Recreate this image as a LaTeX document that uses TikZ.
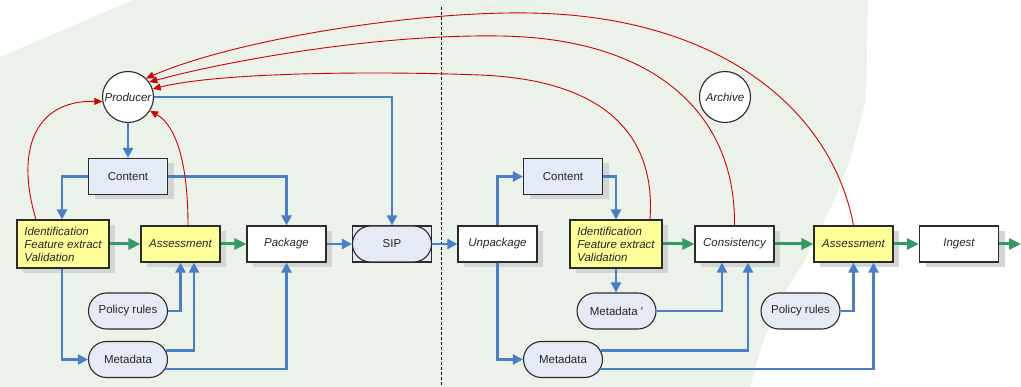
\documentclass[tikz,border=0pt]{standalone}
\usepackage{fontspec}
\setmainfont{Liberation Sans}
\usetikzlibrary{arrows.meta,shadows}

\definecolor{bggreen}{HTML}{EBF2EA}
\definecolor{lblue}{HTML}{E4EBF6}
\definecolor{yel}{HTML}{FFFF99}
\definecolor{wireblue}{HTML}{4A7EC8}
\definecolor{flowgreen}{HTML}{339966}
\definecolor{backred}{HTML}{D40000}
\definecolor{edgegray}{HTML}{2B2B2B}
\definecolor{txt}{HTML}{262626}
\definecolor{shadowc}{HTML}{D2D6D2}

\begin{document}
\begin{tikzpicture}[x=1pt,y=-1pt,
  every node/.style={font=\fontsize{11.5}{13}\selectfont, text=txt},
  boxbase/.style={draw=edgegray, line width=1.1pt, minimum width=79pt,
    minimum height=36pt, inner sep=2pt},
  shad/.style={drop shadow={shadow xshift=6pt, shadow yshift=-5pt,
    fill=shadowc, opacity=1}},
  wbox/.style={boxbase, fill=white, shad, font=\fontsize{11.5}{13}\selectfont\itshape},
  ybox/.style={boxbase, fill=yel, shad, font=\fontsize{11.5}{13}\selectfont\itshape},
  cbox/.style={boxbase, fill=lblue, shad},
  multibox/.style={ybox, minimum width=92pt, minimum height=48pt, align=left},
  pill/.style={draw=edgegray, line width=1.1pt, fill=lblue, rounded corners=18pt,
    minimum width=79pt, minimum height=36pt, inner sep=2pt},
  circ/.style={circle, draw=edgegray, line width=1.1pt, fill=white,
    minimum size=51pt, inner sep=0pt, font=\fontsize{11.5}{13}\selectfont\itshape},
  wire/.style={draw=wireblue, line width=2.3pt,
    -{Triangle[length=10pt,width=10pt]}},
  flow/.style={draw=flowgreen, line width=3pt,
    -{Triangle[length=12pt,width=11pt]}},
  loop/.style={draw=backred, line width=0.9pt,
    -{Triangle[length=8pt,width=7pt]}},
]
\useasboundingbox (0,0) rectangle (1021,387);

% shaded working area
\fill[bggreen] (0,57) -- (133,0) -- (868,0) -- (866,100) -- (850,160)
  -- (832,205) -- (805,260) -- (780,300) -- (762,345) -- (750,387)
  -- (0,387) -- cycle;

% divider between producer side and archive side
\coordinate (divtop) at (441.7,7);
\coordinate (divbot) at (441.7,387);
\draw[black, line width=0.8pt, dash pattern=on 3pt off 2pt] (divtop) -- (divbot);

% producer side
\node[circ] (prod) at (128,97) {Producer};
\node[cbox] (cont) at (128,176.5) {Content};
\node[multibox] (id) at (63,244) {Identification\\Feature extract\\Validation};
\node[ybox] (ass) at (180.5,244) {Assessment};
\node[wbox] (pack) at (286.5,244) {Package};
\node[boxbase, fill=lblue] (sip) at (392,244) {};
\node[pill] (sippill) at (392,244) {SIP};
\node[pill] (pol) at (128,311) {Policy rules};
\node[pill] (meta) at (128,359.5) {Metadata};

% archive side
\node[circ] (arch) at (725,97) {Archive};
\node[wbox] (unp) at (497.5,244) {Unpackage};
\node[cbox] (cont2) at (563,176.5) {Content};
\node[multibox] (id2) at (616,244) {Identification\\Feature extract\\Validation};
\node[wbox] (cons) at (734.5,244) {Consistency};
\node[ybox] (ass2) at (853.5,244) {Assessment};
\node[wbox] (ing) at (959,244) {Ingest};
\node[pill] (metap) at (616.5,311) {Metadata ′};
\node[pill] (pol2) at (800.5,311) {Policy rules};
\node[pill] (meta2) at (563,359.5) {Metadata};
\coordinate (out) at (1021,244);

% producer side connectors
\draw[wire] (prod) -- (cont);
\draw[wire] (cont.west) -| ([xshift=-1pt]id.north);
\draw[wire] (cont.east) -| (pack.north);
\draw[wire] (prod.east) -| (sip.north);
\draw[flow] (id) -- (ass);
\draw[flow] (ass) -- (pack);
\draw[wire] (pack) -- (sip);
\draw[wire] (sip) -- (unp);
\draw[wire] ([xshift=-1pt]id.south) |- (meta.west);
\draw[wire] (pol.east) -| (ass.south);
\draw[wire] ([xshift=-2.4pt,yshift=9pt]meta.east) -| ([xshift=13.5pt]ass.south);
\draw[wire] ([xshift=-2.7pt,yshift=-9.5pt]meta.east) -| (pack.south);

% archive side connectors
\draw[wire] (unp.north) |- (cont2.west);
\draw[wire] (unp.south) |- (meta2.west);
\draw[wire] (cont2.east) -| (id2.north);
\draw[flow] (id2) -- (cons);
\draw[flow] (cons) -- (ass2);
\draw[flow] (ass2) -- (ing);
\draw[flow] (ing) -- (out);
\draw[wire] (id2.south) -- (id2.south |- metap.north);
\draw[wire] (metap.east) -| ([xshift=-12.5pt]cons.south);
\draw[wire] ([xshift=-2.4pt,yshift=9pt]meta2.east) -| ([xshift=13.5pt]cons.south);
\draw[wire] (pol2.east) -| (ass2.south);
\draw[wire] ([xshift=-2.7pt,yshift=-9.5pt]meta2.east) -| ([xshift=20pt]ass2.south);

% feedback to the producer
\draw[loop] ([xshift=-27pt]id.north) .. controls (15,150) and (35,100) .. (prod.190);
\draw[loop] ([xshift=7.5pt]ass.north) .. controls (188,160) and (175,125) .. (prod.-32);
\coordinate (peak3) at (480,75);
\draw[loop] ([xshift=34pt]id2.north) .. controls (656,135) and (605,80) .. (peak3)
  .. controls (380,71) and (220,72) .. (prod.18);
\coordinate (peak4) at (500,36);
\draw[loop] (cons.north) .. controls (736,110) and (650,38) .. (peak4)
  .. controls (380,34) and (230,60) .. (prod.35);
\coordinate (peak5) at (530,13);
\draw[loop] (ass2.north) .. controls (832,110) and (720,16) .. (peak5)
  .. controls (420,11) and (240,38) .. (prod.46);
\end{tikzpicture}
\end{document}
